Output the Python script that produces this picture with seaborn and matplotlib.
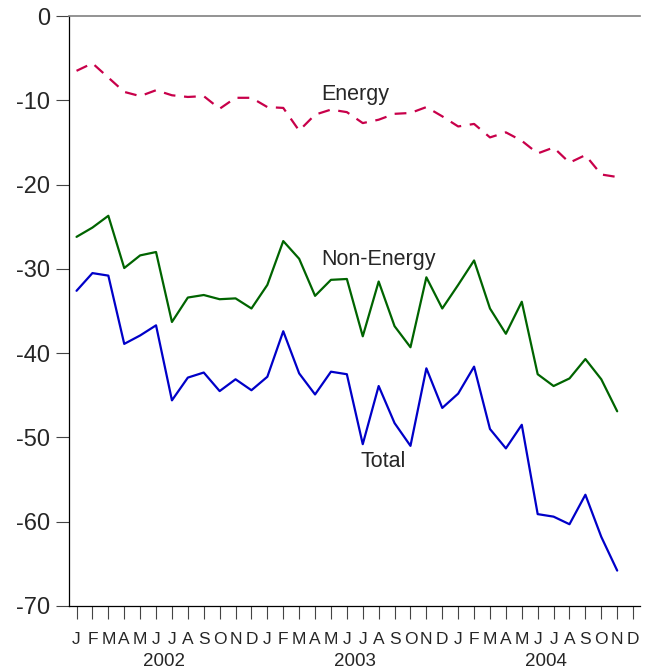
import matplotlib
matplotlib.use("Agg")
import matplotlib.pyplot as plt
import seaborn as sns
import pandas as pd
import numpy as np

month_letters = ["J", "F", "M", "A", "M", "J", "J", "A", "S", "O", "N", "D"]
years = ["2002", "2003", "2004"]

energy = [-6.5, -5.6, -7.3, -9.0, -9.5, -8.8, -9.4, -9.6, -9.5, -11.0, -9.7, -9.7,
          -10.8, -10.9, -13.6, -11.7, -11.1, -11.4, -12.7, -12.3, -11.6, -11.5, -10.8, -11.9,
          -13.1, -12.8, -14.4, -13.8, -14.8, -16.3, -15.6, -17.4, -16.5, -18.8, -19.1]
non_energy = [-26.2, -25.1, -23.7, -29.9, -28.4, -28.0, -36.3, -33.4, -33.1, -33.6, -33.5, -34.7,
              -31.9, -26.7, -28.8, -33.2, -31.3, -31.2, -38.0, -31.5, -36.8, -39.3, -31.0, -34.7,
              -31.9, -29.0, -34.7, -37.7, -33.9, -42.5, -43.9, -43.0, -40.7, -43.1, -46.9]
total = [-32.6, -30.5, -30.8, -38.9, -37.9, -36.7, -45.6, -42.9, -42.3, -44.5, -43.1, -44.4,
         -42.8, -37.4, -42.4, -44.9, -42.2, -42.5, -50.8, -43.9, -48.3, -51.0, -41.8, -46.5,
         -44.8, -41.6, -49.0, -51.3, -48.5, -59.1, -59.4, -60.3, -56.8, -61.8, -65.8]

sns.set_style("white")
plt.rcParams['font.family'] = ['Liberation Sans', 'DejaVu Sans']

idx = np.arange(len(total))
df = pd.DataFrame({
    "month": np.concatenate([idx, idx, idx]),
    "value": energy + non_energy + total,
    "series": ["Energy"] * len(idx) + ["Non-Energy"] * len(idx) + ["Total"] * len(idx),
})

fig = plt.figure(figsize=(6.5, 6.69), dpi=100)
ax = fig.add_axes([0.106, 0.0942, 0.879, 0.8818])

palette = {"Energy": "#C8004A", "Non-Energy": "#006400", "Total": "#0000C8"}
sns.lineplot(data=df, x="month", y="value", hue="series", style="series",
             palette=palette, dashes={"Energy": (5.3, 3.9), "Non-Energy": "", "Total": ""},
             linewidth=1.6, legend=False, ax=ax)

ax.set_xlim(-0.48, 35.45)
ax.set_ylim(-70, 0)
ax.set_yticks(np.arange(-70, 1, 10))
ax.set_yticklabels([str(v) for v in range(-70, 1, 10)], fontsize=17)
ticks = np.arange(36)
ax.set_xticks(ticks)
ax.set_xticklabels(month_letters * 3, fontsize=12.5)
ax.set_xlabel("")
ax.set_ylabel("")

ax.tick_params(axis="x", direction="out", length=9.4, width=0.8, color="#444444", pad=9,
               bottom=True)
ax.tick_params(axis="y", direction="out", length=9.4, width=0.8, color="#444444", pad=4,
               left=True)

ax.spines["right"].set_visible(False)
ax.spines["top"].set_color("#808080")
ax.spines["top"].set_linewidth(1.2)
ax.spines["left"].set_color("black")
ax.spines["left"].set_linewidth(0.9)
ax.spines["bottom"].set_color("black")
ax.spines["bottom"].set_linewidth(0.9)

for i, yr in enumerate(years):
    ax.text(12 * i + 5.5, -0.0935, yr, transform=ax.get_xaxis_transform(),
            ha="center", va="center", fontsize=13.5)

ax.text(17.5, -9.3, "Energy", ha="center", va="center", fontsize=15.5)
ax.text(19.0, -28.9, "Non-Energy", ha="center", va="center", fontsize=15.5)
ax.text(19.3, -52.9, "Total", ha="center", va="center", fontsize=15.5)

fig.savefig("out.png", dpi=100)
